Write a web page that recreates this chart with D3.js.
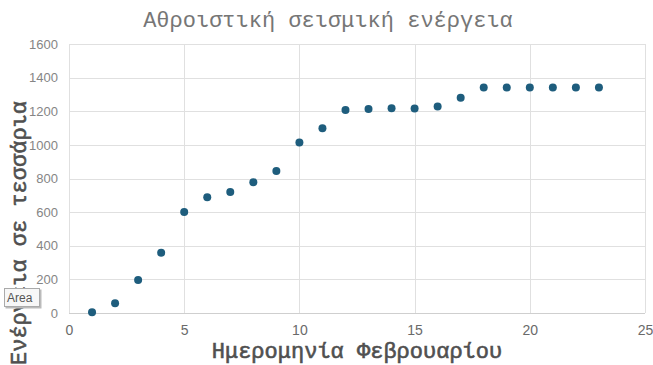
<!DOCTYPE html>
<html>
<head>
<meta charset="utf-8">
<script src="https://cdn.jsdelivr.net/npm/d3@7"></script>
<style>
  html, body { margin: 0; padding: 0; background: #fff; }
  svg { display: block; }
</style>
</head>
<body>
<svg id="chart" width="653" height="365"></svg>
<script>
// Cumulative seismic energy per day of February
const days = [1, 2, 3, 4, 5, 6, 7, 8, 9, 10, 11, 12, 13, 14, 15, 16, 17, 18, 19, 20, 21, 22, 23];
const energy = [5, 58, 197, 359, 601, 689, 720, 778, 845, 1014, 1099, 1208, 1214, 1218, 1216, 1228, 1280, 1341, 1341, 1341, 1341, 1341, 1341];
const xTicks = [0, 5, 10, 15, 20, 25];
const yTicks = [0, 200, 400, 600, 800, 1000, 1200, 1400, 1600];

const titleText = "Αθροιστική σεισμική ενέργεια";
const xTitleText = "Ημερομηνία Φεβρουαρίου";
const yTitleText = "Ενέργεια σε τεσσάρια";

const svg = d3.select("#chart");
const plot = { left: 69, right: 645, top: 44, bottom: 313 };

const x = d3.scaleLinear().domain([0, 25]).range([plot.left, plot.right]);
const y = d3.scaleLinear().domain([0, 1600]).range([plot.bottom, plot.top]);

const monoFont = "'Liberation Mono', 'DejaVu Sans Mono', monospace";
const sansFont = "'Liberation Sans', Arial, sans-serif";

// Gridlines
const grid = svg.append("g");
grid.selectAll("line.h").data(yTicks).join("line")
  .attr("x1", plot.left).attr("x2", plot.right)
  .attr("y1", d => Math.round(y(d)) + 0.5).attr("y2", d => Math.round(y(d)) + 0.5)
  .attr("stroke", d => d === 0 ? "#cfcfcf" : "#e0e0e0").attr("stroke-width", 1);
grid.selectAll("line.v").data(xTicks).join("line")
  .attr("y1", plot.top).attr("y2", plot.bottom)
  .attr("x1", d => Math.round(x(d)) + 0.5).attr("x2", d => Math.round(x(d)) + 0.5)
  .attr("stroke", "#e0e0e0").attr("stroke-width", 1);

// Axes (labels only; lines come from the grid)
const xAxis = svg.append("g")
  .attr("transform", `translate(0,${plot.bottom})`)
  .call(d3.axisBottom(x).tickValues(xTicks).tickSize(0).tickPadding(12).tickFormat(d3.format("d")));
xAxis.select(".domain").remove();
xAxis.selectAll("text").attr("font-family", sansFont).attr("font-size", 14).attr("fill", "#6a6a6a");

const yAxis = svg.append("g")
  .attr("transform", `translate(${plot.left},0)`)
  .call(d3.axisLeft(y).tickValues(yTicks).tickSize(0).tickPadding(11).tickFormat(d3.format("d")));
yAxis.select(".domain").remove();
yAxis.selectAll("text").attr("font-family", sansFont).attr("font-size", 13).attr("fill", "#858585");

// Data points
svg.append("g").selectAll("circle").data(days).join("circle")
  .attr("cx", (d, i) => x(d))
  .attr("cy", (d, i) => y(energy[i]))
  .attr("r", 4)
  .attr("fill", "#1e5d7d");

// Chart title
svg.append("text")
  .attr("x", 328).attr("y", 27)
  .attr("text-anchor", "middle")
  .attr("font-family", monoFont).attr("font-size", 22)
  .attr("fill", "#767676")
  .text(titleText);

// X axis title (semi-bold via a thin outline)
svg.append("text")
  .attr("x", 357).attr("y", 358)
  .attr("text-anchor", "middle")
  .attr("font-family", monoFont).attr("font-size", 22)
  .attr("fill", "#505050").attr("stroke", "#505050").attr("stroke-width", 0.6)
  .text(xTitleText);

// Y axis title
svg.append("text")
  .attr("transform", "translate(26,233) rotate(-90)")
  .attr("text-anchor", "middle")
  .attr("font-family", monoFont).attr("font-size", 22)
  .attr("fill", "#505050").attr("stroke", "#505050").attr("stroke-width", 0.6)
  .text(yTitleText);

// "Area" tag box
const tag = svg.append("g").attr("transform", "translate(4,288)");
tag.append("rect").attr("x", 1.5).attr("y", 1.5).attr("width", 36).attr("height", 19)
  .attr("fill", "#bbb");
tag.append("rect").attr("x", 0.5).attr("y", 0.5).attr("width", 35).attr("height", 18)
  .attr("fill", "#f7f7f7").attr("stroke", "#aaa");
tag.append("text").attr("x", 3).attr("y", 14)
  .attr("font-family", sansFont).attr("font-size", 12).attr("fill", "#555")
  .text("Area");
</script>
</body>
</html>
